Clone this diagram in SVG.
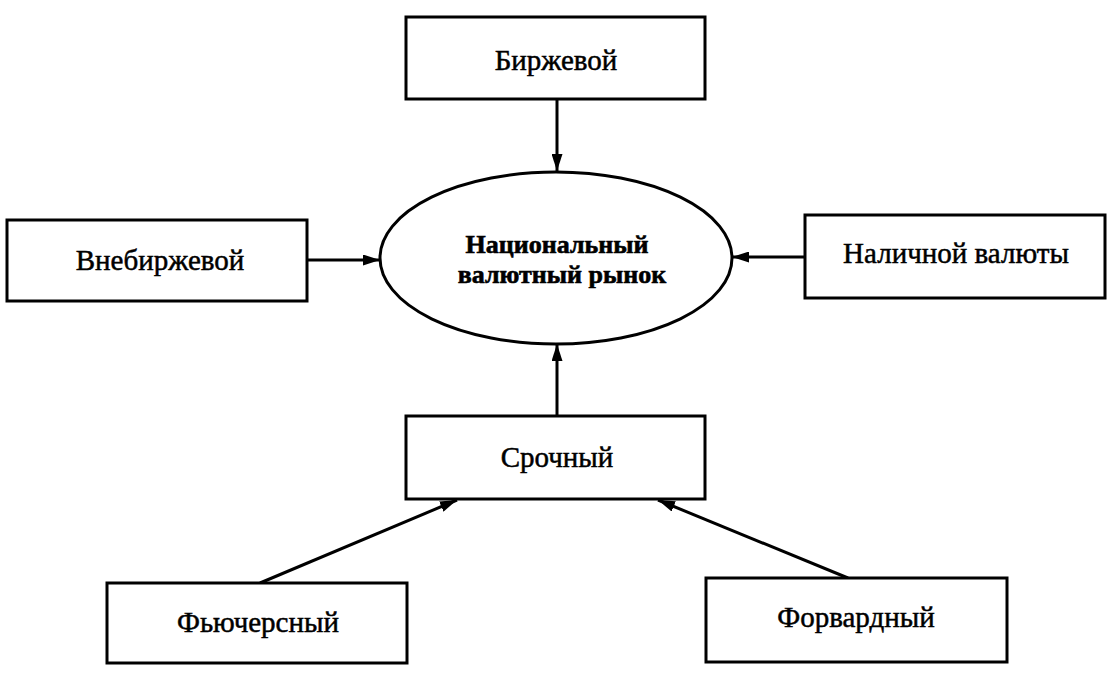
<svg xmlns="http://www.w3.org/2000/svg" width="1112" height="676" viewBox="0 0 1112 676">
<style>
.box{fill:#fff;stroke:#000;stroke-width:3}
.lbl{font-family:"Liberation Serif","Times New Roman",serif;font-size:29px;fill:#000;stroke:#000;stroke-width:0.5;text-anchor:middle}
.ctr{font-family:"Liberation Serif","Times New Roman",serif;font-size:26px;font-weight:bold;fill:#000;stroke:#000;stroke-width:0.6;text-anchor:middle}
.conn{stroke:#000;stroke-width:3;fill:none;marker-end:url(#ah)}
</style>
<defs>
<marker id="ah" viewBox="0 0 17 11" refX="17" refY="5.5" markerWidth="17" markerHeight="11" markerUnits="userSpaceOnUse" orient="auto">
<path d="M0,0 L17,5.5 L0,11 Z" fill="#000"/>
</marker>
</defs>
<rect width="1112" height="676" fill="#fff"/>
<g id="connectors">
<line class="conn" x1="557" y1="99" x2="557" y2="171"/>
<line class="conn" x1="307" y1="260" x2="380" y2="260"/>
<line class="conn" x1="805" y1="257" x2="732" y2="257"/>
<line class="conn" x1="557" y1="416" x2="557" y2="344"/>
<line class="conn" x1="260" y1="583" x2="457" y2="500"/>
<line class="conn" x1="848" y1="578" x2="658" y2="500"/>
</g>
<g id="center">
<ellipse cx="556" cy="258" rx="176" ry="86" fill="#fff" stroke="#000" stroke-width="3"/>
<text class="ctr" x="557" y="253">Национальный</text>
<text class="ctr" x="562" y="283">валютный рынок</text>
</g>
<g id="birzhevoy">
<rect class="box" x="406" y="17" width="299" height="82"/>
<text class="lbl" x="556" y="70">Биржевой</text>
</g>
<g id="vnebirzhevoy">
<rect class="box" x="7" y="220" width="300" height="81"/>
<text class="lbl" x="160" y="270">Внебиржевой</text>
</g>
<g id="nalichnoy">
<rect class="box" x="805" y="215" width="300" height="83"/>
<text class="lbl" x="956" y="263">Наличной валюты</text>
</g>
<g id="srochny">
<rect class="box" x="406" y="416" width="299" height="83"/>
<text class="lbl" x="557" y="467">Срочный</text>
</g>
<g id="fyuchersny">
<rect class="box" x="107" y="583" width="300" height="80"/>
<text class="lbl" x="258" y="632">Фьючерсный</text>
</g>
<g id="forvardny">
<rect class="box" x="706" y="578" width="301" height="84"/>
<text class="lbl" x="856" y="627">Форвардный</text>
</g>
</svg>
